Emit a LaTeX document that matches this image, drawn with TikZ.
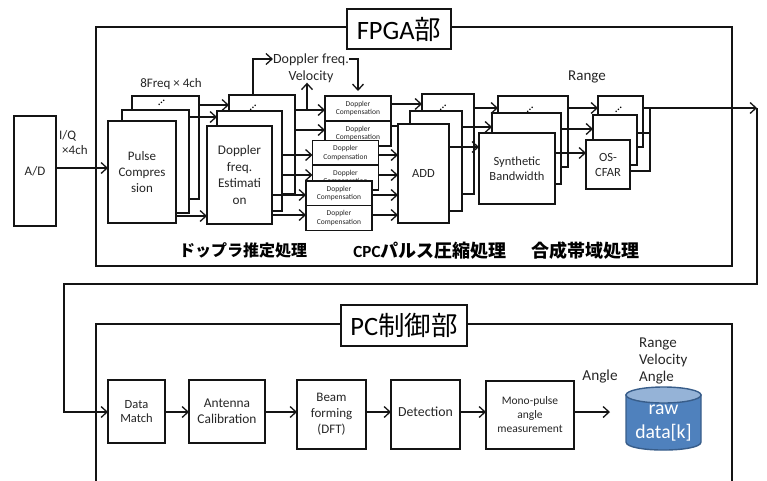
\documentclass[tikz,border=0pt]{standalone}
\usepackage{fontspec}
\setmainfont{Carlito}
\newfontfamily\cjk{Noto Sans CJK JP}
\usepackage{tikz}
\usetikzlibrary{arrows.meta,positioning,calc,shapes.geometric}
\definecolor{softline}{RGB}{20,20,20}
\definecolor{drumblue}{RGB}{79,129,189}
\definecolor{drumtop}{RGB}{149,179,215}
\definecolor{drumline}{RGB}{56,93,138}
\tikzset{blk/.style={draw=softline, line width=1.3pt, fill=white, align=center, inner sep=1pt, outer sep=0pt, text=black!85},
comp/.style={blk, minimum width=66pt, minimum height=25pt, font=\fontsize{7.5}{8.5}\selectfont},
framebox/.style={draw=softline, line width=2.2pt, fill=white, inner sep=0pt, outer sep=0pt},
conn/.style={-{Straight Barb[length=6pt,width=11pt]}, line width=1.3pt, draw=softline},
wire/.style={line width=1.3pt, draw=softline},
lbl/.style={align=center, inner sep=0pt, text=black!85},
jplbl/.style={inner sep=0pt},
stackdots/.style={rotate=45, inner sep=0pt, font=\fontsize{13}{13}\selectfont}}
\begin{document}
\begin{tikzpicture}[x=1pt, y=-1pt]
\useasboundingbox (0,0) rectangle (767,480);
\node[framebox, minimum width=636pt, minimum height=239pt] (fpga) at (414,146.5) {};
\node[framebox, minimum width=104pt, minimum height=40pt, font=\fontsize{26.5}{30}\selectfont] (fpgaT) at (399,29) {FPGA{\cjk 部}};
\coordinate (pcBL) at (96,482);
\coordinate (pcTL) at (96,324);
\coordinate (pcTR) at (732,324);
\coordinate (pcBR) at (732,482);
\draw[line width=2.2pt, draw=softline] (pcBL) -- (pcTL) -- (pcTR) -- (pcBR);
\node[framebox, minimum width=126pt, minimum height=41pt, font=\fontsize{26.5}{30}\selectfont] (pcT) at (404,325.5) {PC{\cjk 制御部}};
\node[blk, minimum width=42pt, minimum height=110pt, font=\fontsize{13}{16}\selectfont] (ad) at (35,171) {A/D};
\node[blk, minimum width=67pt, minimum height=103pt] (pulseB) at (165.5,147.5) {};
\node[blk, minimum width=67pt, minimum height=103pt] (pulseM) at (155.5,161.5) {};
\node[blk, minimum width=68pt, minimum height=102pt, font=\fontsize{13}{16}\selectfont] (pulseF) at (142,172) {Pulse\\Compres\\sion};
\node[blk, minimum width=66pt, minimum height=99pt] (doppB) at (262,144.5) {};
\node[blk, minimum width=65pt, minimum height=100pt] (doppM) at (249.5,161) {};
\node[blk, minimum width=65pt, minimum height=98pt, font=\fontsize{13.2}{16.5}\selectfont] (doppF) at (239.5,175) {Doppler\\freq.\\Estimati\\on};
\node[comp] (comp1) at (358,108.5) {Doppler\\Compensation};
\node[comp] (comp2) at (358,133.5) {Doppler\\Compensation};
\node[comp] (comp3) at (345.5,153) {Doppler\\Compensation};
\node[comp] (comp4) at (345.5,177.5) {Doppler\\Compensation};
\node[comp] (comp5) at (339,193.5) {Doppler\\Compensation};
\node[comp] (comp6) at (339,218) {Doppler\\Compensation};
\node[blk, minimum width=52pt, minimum height=100pt] (addB) at (448,144) {};
\node[blk, minimum width=52pt, minimum height=100pt] (addM) at (436,161) {};
\node[blk, minimum width=51pt, minimum height=99pt, font=\fontsize{12.5}{15}\selectfont] (addF) at (423.5,173.5) {ADD};
\node[blk, minimum width=70pt, minimum height=71pt] (synB) at (533,131.5) {};
\node[blk, minimum width=69pt, minimum height=71pt] (synM) at (526.5,148.5) {};
\node[blk, minimum width=76pt, minimum height=71pt, font=\fontsize{12.5}{15}\selectfont] (synF) at (517,168.5) {Synthetic\\Bandwidth};
\node[blk, minimum width=45pt, minimum height=51pt] (cfarB) at (620.5,121.5) {};
\node[blk, minimum width=44pt, minimum height=50pt] (cfarM) at (615,140) {};
\node[blk, minimum width=44pt, minimum height=49pt, font=\fontsize{12.5}{15}\selectfont] (cfarF) at (608,164.5) {OS-\\CFAR};
\node[stackdots] (dots1) at (161.5,103) {...};
\node[stackdots] (dots2) at (253,108) {...};
\node[stackdots] (dots3) at (443,108) {...};
\node[stackdots] (dots4) at (530,110) {...};
\node[stackdots] (dots5) at (618.5,110) {...};
\node[lbl, align=left, anchor=west, font=\fontsize{13}{15}\selectfont] (iq) at (59,142.5) {I/Q\\\hspace{3pt}×4ch};
\node[lbl, font=\fontsize{13}{14}\selectfont] (freqs) at (171,84) {8Freq × 4ch};
\node[lbl, font=\fontsize{14}{17}\selectfont] (velo) at (311,68) {Doppler freq.\\Velocity};
\node[lbl, font=\fontsize{15}{15}\selectfont] (range) at (587,77) {Range};
\node[jplbl, font=\fontsize{16}{18}\selectfont\cjk\bfseries] (jp1) at (243,250.5) {ドップラ推定処理};
\node[jplbl, font=\fontsize{18}{20}\selectfont\cjk\bfseries] (jp2) at (430,250.5) {{\fontspec{Carlito}\bfseries\fontsize{17}{18}\selectfont CPC}パルス圧縮処理};
\node[jplbl, font=\fontsize{18}{20}\selectfont\cjk\bfseries] (jp3) at (585,250.5) {合成帯域処理};
\node[blk, minimum width=57pt, minimum height=63pt, font=\fontsize{12.5}{14}\selectfont] (match) at (136.5,411.5) {\raisebox{-2pt}{Data}\\\raisebox{-2pt}{Match}};
\node[blk, minimum width=76pt, minimum height=63pt, font=\fontsize{13.4}{16}\selectfont] (calib) at (227,411.5) {Antenna\\Calibration};
\node[blk, minimum width=69pt, minimum height=69pt, font=\fontsize{13}{16}\selectfont] (beam) at (331.5,414.5) {\raisebox{-2pt}{Beam}\\\raisebox{-2pt}{forming}\\\raisebox{-2pt}{(DFT)}};
\node[blk, minimum width=69pt, minimum height=69pt, font=\fontsize{13.8}{16}\selectfont] (detect) at (425.5,414.5) {\raisebox{5pt}{Detection}};
\node[blk, minimum width=88pt, minimum height=68pt, font=\fontsize{11.5}{14}\selectfont] (mono) at (530,415) {Mono-pulse\\angle\\measurement};
\coordinate (drum) at (610,412);
\draw[draw=drumline, line width=1.4pt, fill=drumblue] (626,395) -- (626,442) .. controls (626,452.7) and (701,452.7) .. (701,442) -- (701,395) -- cycle;
\draw[draw=drumline, line width=1.4pt, fill=drumtop] (663.5,395) ellipse [x radius=37.5, y radius=8];
\node[lbl, text=white, font=\fontsize{19.7}{23.5}\selectfont] (drumT) at (663.5,423) {raw\\data[k]};
\node[lbl, font=\fontsize{15.3}{17}\selectfont] (angle) at (600,376.5) {Angle};
\node[lbl, align=left, anchor=west, font=\fontsize{15}{17}\selectfont] (axes) at (639,360.5) {Range\\Velocity\\Angle};
\coordinate (vtap) at (307,110);
\coordinate (ortap) at (650,108);
\coordinate (retR) at (757,284);
\coordinate (retL) at (64,284);
\draw[conn] (ad.east |- 0,168) -- (pulseF.west |- 0,168);
\draw[conn] (pulseB.east |- 0,105) -- (doppB.west |- 0,105);
\draw[conn] (pulseM.east |- 0,117) -- (doppM.west |- 0,117);
\draw[conn] (pulseF.east |- 0,216) -- (doppF.west |- 0,216);
\draw[conn] (doppB.east |- 0,110) -- (comp1.west |- 0,110);
\draw[conn] (doppB.east |- 0,130) -- (comp2.west |- 0,130);
\draw[conn] (doppM.east |- 0,155) -- (comp3.west |- 0,155);
\draw[conn] (doppM.east |- 0,175) -- (comp4.west |- 0,175);
\draw[conn] (doppF.east |- 0,195) -- (comp5.west |- 0,195);
\draw[conn] (doppF.east |- 0,215) -- (comp6.west |- 0,215);
\draw[conn] (vtap) -- (vtap |- velo.south);
\draw[conn] (doppB.north -| 253,0) |- (velo.west |- 0,59);
\draw[conn, shorten >=5pt] (velo.east |- 0,59) -| (comp1.north -| 358,0);
\draw[conn] (comp1.east |- 0,104) -- (addB.west |- 0,104);
\draw[wire] (comp2.east |- 0,126) -- (addF.west |- 0,126);
\draw[conn] (comp3.east |- 0,155) -- (addF.west |- 0,155);
\draw[conn] (comp4.east |- 0,175) -- (addF.west |- 0,175);
\draw[conn] (comp5.east |- 0,195) -- (addF.west |- 0,195);
\draw[conn] (comp6.east |- 0,215) -- (addF.west |- 0,215);
\draw[conn] (addB.east |- 0,108) -- (synB.west |- 0,108);
\draw[conn] (addM.east |- 0,127) -- (synM.west |- 0,127);
\draw[conn] (addF.east |- 0,147) -- (synF.west |- 0,147);
\draw[conn] (synB.east |- 0,108) -- (cfarB.west |- 0,108);
\draw[conn] (synM.east |- 0,129) -- (cfarM.west |- 0,129);
\draw[conn] (synF.east |- 0,153) -- (cfarF.west |- 0,153);
\draw[wire] (cfarF.east |- 0,171) -| (ortap);
\draw[wire] (cfarM.east |- 0,133) -- (ortap |- 0,133);
\draw[conn] (cfarB.east |- 0,108) -- (retR |- 0,108);
\draw[conn] (retR |- 0,108) -- (retR) -- (retL) |- (match.west |- 0,412);
\draw[conn] (match.east |- 0,412) -- (calib.west |- 0,412);
\draw[conn] (calib.east |- 0,412) -- (beam.west |- 0,412);
\draw[conn] (beam.east |- 0,412) -- (detect.west |- 0,412);
\draw[conn] (detect.east |- 0,412) -- (mono.west |- 0,412);
\draw[conn] (mono.east |- 0,412) -- (drum);
\end{tikzpicture}
\end{document}
